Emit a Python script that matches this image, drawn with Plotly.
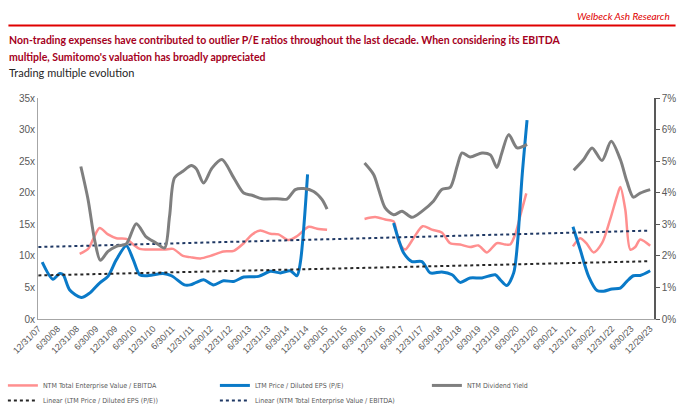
import plotly.graph_objects as go

# ---- data (x in decimal years; None = gap) ----
ev_x = [2009.08, 2009.30, 2009.43, 2009.60, 2009.82, 2010.04, 2010.30, 2010.48, 2010.65, 2011.00,
        2011.30, 2011.52, 2011.78, 2011.97, 2012.24, 2012.50, 2012.84, 2013.11, 2013.37, 2013.59,
        2013.80, 2014.07, 2014.28, 2014.54, 2014.76, 2015.07, 2015.29, 2015.55, None,
        2016.53, 2016.81, 2017.07, 2017.29, 2017.42, 2017.59, 2017.81, 2018.05, 2018.29, 2018.55,
        2018.77, 2019.03, 2019.29, 2019.51, 2019.73, 2019.99, 2020.21, 2020.34, 2020.47, 2020.60,
        2020.76, None,
        2021.98, 2022.17, 2022.33, 2022.52, 2022.74, 2022.95, 2023.13, 2023.22, 2023.35, 2023.48,
        2023.61, 2023.74, 2024.00]
ev_y = [10.3, 11.1, 12.6, 14.4, 13.4, 12.8, 12.7, 11.8, 11.1, 11.0,
        11.0, 11.1, 10.0, 9.8, 9.6, 10.0, 10.7, 10.8, 12.0, 13.4,
        14.0, 13.5, 13.4, 12.5, 13.1, 14.6, 14.3, 14.15, None,
        15.85, 16.15, 15.75, 15.45, 12.3, 11.0, 12.8, 14.7, 14.15, 13.7,
        12.0, 11.8, 11.4, 11.65, 10.55, 12.0, 11.8, 11.8, 13.4, 16.3,
        19.9, None,
        11.5, 12.8, 12.0, 10.55, 12.0, 15.7, 19.4, 20.9, 17.3, 11.0,
        11.4, 12.6, 11.6]

pe_x = [2008.10, 2008.38, 2008.56, 2008.65, 2008.82, 2009.12, 2009.34, 2009.60, 2009.82, 2010.04,
        2010.30, 2010.48, 2010.65, 2010.82, 2011.26, 2011.48, 2011.82, 2011.97, 2012.13, 2012.32,
        2012.58, 2012.84, 2013.11, 2013.37, 2013.76, 2014.07, 2014.33, 2014.59, 2014.76, 2014.85,
        2015.04, None,
        2017.29, 2017.42, 2017.55, 2017.77, 2018.03, 2018.25, 2018.55, 2018.82, 2019.03, 2019.29,
        2019.60, 2019.95, 2020.08, 2020.25, 2020.43, 2020.53, 2020.65, 2020.78, None,
        2021.98, 2022.17, 2022.39, 2022.61, 2022.78, 2023.00, 2023.22, 2023.39, 2023.56, 2023.74,
        2024.00]
pe_y = [9.0, 6.3, 7.2, 7.0, 4.6, 3.4, 4.1, 5.7, 6.75, 9.4,
        11.6, 9.4, 7.0, 6.85, 7.2, 6.85, 5.4, 5.4, 5.8, 6.2,
        5.4, 6.05, 5.95, 6.65, 6.75, 7.55, 7.3, 7.65, 6.85, 8.9,
        22.9, None,
        15.2, 12.6, 10.5, 9.1, 9.1, 7.3, 7.45, 7.0, 5.8, 6.5,
        6.5, 7.0, 6.2, 5.3, 7.3, 12.0, 22.6, 31.5, None,
        14.6, 11.0, 6.75, 4.5, 4.4, 4.75, 4.9, 5.95, 6.85, 6.9,
        7.65]

dy_x = [2009.11, 2009.30, 2009.47, 2009.62, 2009.82, 2010.04, 2010.30, 2010.56, 2010.82, 2011.08,
        2011.30, 2011.43, 2011.56, 2011.78, 2012.00, 2012.13, 2012.32, 2012.54, 2012.80, 2013.11,
        2013.37, 2013.59, 2013.85, 2014.24, 2014.50, 2014.72, 2014.94, 2015.20, 2015.42, 2015.55, None,
        2016.53, 2016.77, 2016.90, 2017.07, 2017.29, 2017.51, 2017.77, 2018.03, 2018.33, 2018.55,
        2018.77, 2018.95, 2019.08, 2019.29, 2019.60, 2019.82, 2019.99, 2020.12, 2020.30, 2020.52,
        2020.78, None,
        2022.00, 2022.26, 2022.48, 2022.74, 2022.98, 2023.22, 2023.39, 2023.56, 2023.74, 2024.00]
dy_y = [4.83, 3.78, 2.51, 1.86, 2.14, 2.30, 2.38, 3.02, 2.60, 2.41,
        2.25, 3.25, 4.47, 4.68, 4.86, 4.76, 4.31, 4.78, 5.05, 4.47,
        3.99, 3.92, 3.81, 3.81, 3.80, 4.10, 4.13, 4.04, 3.78, 3.48, None,
        4.94, 4.57, 4.10, 3.52, 3.30, 3.41, 3.22, 3.41, 3.73, 4.10,
        4.17, 4.83, 5.26, 5.13, 5.26, 5.20, 4.80, 5.26, 5.84, 5.42,
        5.53, None,
        4.71, 5.05, 5.42, 5.02, 5.63, 5.05, 4.36, 3.86, 3.99, 4.10]

trend_x = [2008.0, 2024.0]
trend_pe = [6.9, 9.15]
trend_ev = [11.4, 14.0]

tick_vals = [2008.0 + 0.5 * i for i in range(33)]
tick_text = []
for i in range(33):
    yr = 7 + (i + 1) // 2
    if i == 32:
        tick_text.append("12/29/23")
    elif i % 2 == 0:
        tick_text.append(f"12/31/{yr:02d}")
    else:
        tick_text.append(f"6/30/{yr:02d}")

PINK = "#FF8F8F"
BLUE = "#0A7AC8"
GRAY = "#7F7F7F"
TXT = "#595959"
LEG_FONT = dict(size=7, family="Liberation Sans Narrow, DejaVu Sans Condensed, Liberation Sans, Arial", color=TXT)

fig = go.Figure()
fig.add_trace(go.Scatter(x=ev_x, y=ev_y, mode="lines", name="NTM Total Enterprise Value / EBITDA",
                         line=dict(color=PINK, width=2.5, shape="spline", smoothing=0.8), connectgaps=False))
fig.add_trace(go.Scatter(x=pe_x, y=pe_y, mode="lines", name="LTM Price / Diluted EPS (P/E)",
                         line=dict(color=BLUE, width=3, shape="spline", smoothing=0.8), connectgaps=False))
fig.add_trace(go.Scatter(x=dy_x, y=dy_y, mode="lines", name="NTM Dividend Yield", yaxis="y2",
                         line=dict(color=GRAY, width=3, shape="spline", smoothing=0.8), connectgaps=False))
fig.add_trace(go.Scatter(x=trend_x, y=trend_pe, mode="lines", name="Linear (LTM Price / Diluted EPS (P/E))",
                         legend="legend2", line=dict(color="#262626", width=2, dash="dot")))
fig.add_trace(go.Scatter(x=trend_x, y=trend_ev, mode="lines", name="Linear (NTM Total Enterprise Value / EBITDA)",
                         legend="legend2", line=dict(color="#1F3864", width=2, dash="dot")))

fig.update_layout(
    width=700, height=409,
    margin=dict(l=38, r=46, t=98, b=90, autoexpand=False),
    paper_bgcolor="white", plot_bgcolor="white",
    font=dict(family="Liberation Sans, Arial, sans-serif", color=TXT, size=10),
    xaxis=dict(range=[2007.99, 2024.1], tickvals=tick_vals, ticktext=tick_text, tickangle=-45,
               showgrid=False, zeroline=False, showline=True, linecolor="#A6A6A6", linewidth=1,
               ticks="", tickfont=dict(size=9, color=TXT), automargin=False),
    yaxis=dict(range=[0, 35], dtick=5, ticksuffix="x", showgrid=False, zeroline=False, automargin=False,
               showline=True, linecolor="#A6A6A6", linewidth=1, ticks="", tickfont=dict(size=10, color=TXT)),
    yaxis2=dict(range=[0, 7], dtick=1, ticksuffix="%", overlaying="y", side="right", showgrid=False,
                zeroline=False, showline=True, linecolor="#595959", linewidth=1.5, ticks="outside",
                ticklen=4, tickcolor="#595959", tickfont=dict(size=10, color=TXT), automargin=False),
    legend=dict(orientation="h", x=-0.057, y=-0.235, xanchor="left", yanchor="top",
                entrywidth=167, font=LEG_FONT, itemwidth=30, tracegroupgap=0,
                bgcolor="rgba(0,0,0,0)"),
    legend2=dict(orientation="h", x=-0.057, y=-0.303, xanchor="left", yanchor="top",
                 entrywidth=167, font=LEG_FONT, itemwidth=30, tracegroupgap=0,
                 bgcolor="rgba(0,0,0,0)"),
    showlegend=True,
)

def py(p):
    return (319 - p) / 221

fig.add_shape(type="line", xref="paper", yref="paper", x0=-0.048, x1=1.035, y0=py(25.5), y1=py(25.5),
              line=dict(color="#E00000", width=2))
fig.add_annotation(xref="paper", yref="paper", x=1.03, y=py(15.5), xanchor="right", yanchor="middle",
                   text="<i>Welbeck Ash Research</i>", showarrow=False,
                   font=dict(family="Lato, sans-serif", size=10, color="#E00000"))
fig.add_annotation(xref="paper", yref="paper", x=-0.05, y=py(40), xanchor="left", yanchor="middle",
                   text="<b>Non-trading expenses have contributed to outlier P/E ratios throughout the last decade. When considering its EBITDA</b>",
                   showarrow=False, font=dict(family="Lato, sans-serif", size=10.5, color="#A50021"))
fig.add_annotation(xref="paper", yref="paper", x=-0.05, y=py(57), xanchor="left", yanchor="middle",
                   text="<b>multiple, Sumitomo's valuation has broadly appreciated</b>",
                   showarrow=False, font=dict(family="Lato, sans-serif", size=10.5, color="#A50021"))
fig.add_annotation(xref="paper", yref="paper", x=-0.05, y=py(73), xanchor="left", yanchor="middle",
                   text="Trading multiple evolution", showarrow=False,
                   font=dict(family="Lato, sans-serif", size=11, color="#262626"))

fig.write_html("out.html")
